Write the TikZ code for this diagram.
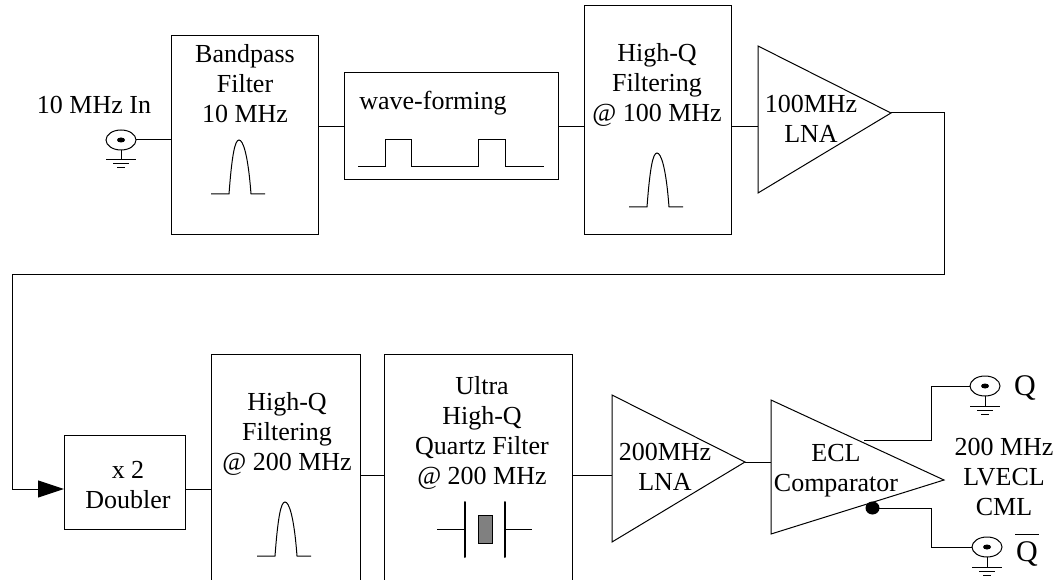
\documentclass[tikz,border=0pt]{standalone}
\usepackage{fontspec}
\setmainfont{Liberation Serif}
\usetikzlibrary{shapes.geometric,arrows.meta}
\begin{document}
\begin{tikzpicture}
  [x=1pt, y=-1pt, line width=1pt, font=\fontsize{26}{30}\selectfont]
  \tikzstyle{box} = [draw=black, rectangle, inner sep=0pt, outer sep=0pt];
  \tikzstyle{label_text} = [align=center, inner sep=0pt];
  \tikzstyle{q_text} = [anchor=base, inner sep=0pt, font=\fontsize{30}{30}\selectfont];
  \tikzstyle{jack} = [draw=black, ellipse, inner sep=0pt, outer sep=0pt, minimum width=30pt, minimum height=20pt];
  \tikzstyle{jack_dot} = [fill=black, ellipse, inner sep=0pt, minimum width=8pt, minimum height=5pt];

  \useasboundingbox (0, 0) rectangle (1060, 580);
  \clip (0, 0) rectangle (1060, 580);

  % top row
  \node[box, minimum width=147pt, minimum height=199pt] (bandpass) at (244.5, 135) {};
  \node[box, minimum width=214pt, minimum height=107pt] (wave) at (451.5, 126.5) {};
  \node[box, minimum width=147pt, minimum height=229pt] (highq_a) at (657.5, 120.5) {};

  \node[label_text] (bandpass_text) at (245, 84) {Bandpass\\Filter\\10 MHz};
  \node[label_text] (wave_text) at (433, 103) {wave-forming};
  \node[label_text] (highq_a_text) at (657, 85) {High-Q\\Filtering\\@ 100 MHz};

  \coordinate (lna_a_in) at (758, 126.5);
  \coordinate (lna_a_out) at (891, 113);
  \draw (758, 46) -- (lna_a_out) -- (758, 193) -- cycle;
  \node[label_text] (lna_a_text) at (811, 119) {100MHz\\LNA};

  % bottom row
  \node[box, minimum width=121pt, minimum height=94pt] (doubler) at (124.5, 482) {};
  \node[box, minimum width=149pt, minimum height=250pt] (highq_b) at (285.5, 479) {};
  \node[box, minimum width=188pt, minimum height=250pt] (quartz) at (478, 479) {};

  \node[label_text] (doubler_text) at (128, 485) {x 2\\Doubler};
  \node[label_text] (highq_b_text) at (287, 434) {High-Q\\Filtering\\@ 200 MHz};
  \node[label_text] (quartz_text) at (482, 433) {Ultra\\High-Q\\Quartz Filter\\@ 200 MHz};

  \coordinate (lna_b_in) at (612, 475);
  \coordinate (lna_b_out) at (745, 462);
  \draw (612, 395) -- (lna_b_out) -- (612, 542) -- cycle;
  \node[label_text] (lna_b_text) at (665, 467) {200MHz\\LNA};

  \coordinate (comp_in) at (771, 462);
  \coordinate (comp_q) at (864, 440);
  \draw (771, 400) -- (944, 480) -- (771, 534) -- cycle;
  \node[label_text] (comp_text) at (836, 471) {ECL\\Comparator};
  \node[fill=black, ellipse, inner sep=0pt, minimum width=14pt, minimum height=13pt] (comp_qbar) at (872.5, 508) {};

  % connectors
  \node[jack] (jack_in) at (121, 140) {};
  \node[jack] (jack_q) at (985, 386) {};
  \node[jack] (jack_qbar) at (987, 547) {};

  \foreach \jackname in {jack_in, jack_q, jack_qbar} {
    \node[jack_dot] (\jackname_dot) at (\jackname) {};
    \draw (\jackname.south) -- ++(0, 10) ++(-15, 0) -- ++(30, 0) ++(-23, 4) -- ++(16, 0) ++(-12, 4) -- ++(8, 0);
  }

  \node[label_text] (in_text) at (94, 105) {10 MHz In};
  \node[q_text] (q_label) at (1025, 395) {Q};
  \node[q_text] (qbar_label) at (1027, 561) {$\overline{\mbox{\rule{0pt}{25pt}\kern1pt Q\kern1pt}}$};
  \node[label_text] (out_text) at (1004, 477) {200 MHz\\LVECL\\CML};

  % passband curves
  \foreach \px/\py in {239/194, 657/207, 285/556} {
    \draw (\px-28, \py) -- (\px-10, \py) .. controls (\px-7, \py-40) and (\px-4, \py-54) .. (\px, \py-54)
      .. controls (\px+4, \py-54) and (\px+9, \py-40) .. (\px+12, \py) -- (\px+26, \py);
  }

  % pulse train
  \draw (358, 167) -- (385, 167) -- (385, 140) -- (411, 140) -- (411, 167) -- (478, 167)
    -- (478, 140) -- (505, 140) -- (505, 167) -- (544, 167);

  % crystal
  \draw (437, 529) -- (465, 529);
  \draw (505, 529) -- (532, 529);
  \draw[line width=2pt, line cap=round] (465, 502) -- (465, 557);
  \draw[line width=2pt, line cap=round] (505, 502) -- (505, 557);
  \draw[fill=gray] (478, 515) rectangle (492, 543);

  % wires
  \coordinate (doubler_in) at (64, 489);
  \coordinate (doubler_out) at (185, 489);
  \coordinate (turn_a) at (944, 274);
  \coordinate (turn_b) at (12, 489);

  \draw (jack_in.east) -- (bandpass.west |- jack_in.east);
  \draw (bandpass.east |- wave.west) -- (wave.west);
  \draw (wave.east) -- (highq_a.west |- wave.east);
  \draw (highq_a.east |- lna_a_in) -- (lna_a_in);
  \draw[-{Triangle[length=26pt, width=17pt]}] (lna_a_out) -| (turn_a) -| (turn_b) -- (doubler_in);
  \draw (doubler_out) -- (highq_b.west |- doubler_out);
  \draw (highq_b.east |- lna_b_in) -- (quartz.west |- lna_b_in);
  \draw (quartz.east |- lna_b_in) -- (lna_b_in);
  \draw (lna_b_out) -- (comp_in);
  \draw (comp_q) -- (931, 440) |- (jack_q.west);
  \draw (comp_qbar.center) -- (931, 508) |- (jack_qbar.west);
\end{tikzpicture}
\end{document}
